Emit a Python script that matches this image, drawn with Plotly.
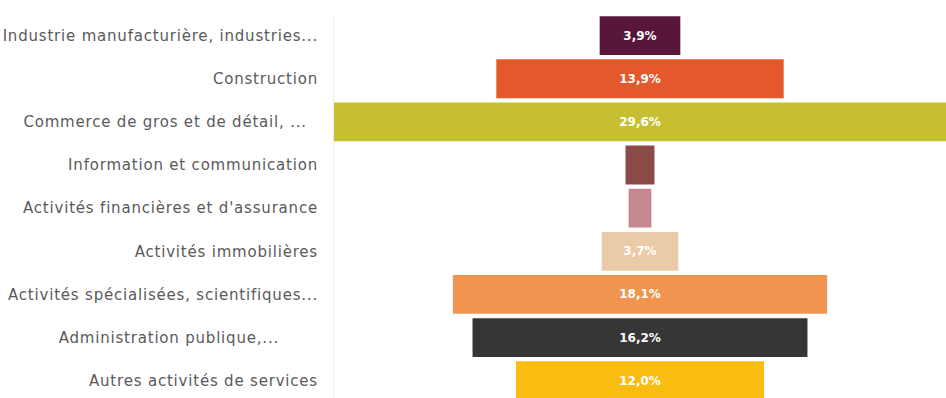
import plotly.graph_objects as go

# Part des effectifs par secteur d'activité (%)
secteurs = [
    "Industrie manufacturière, industries...",
    "Construction",
    "Commerce de gros et de détail, ...",
    "Information et communication",
    "Activités financières et d'assurance",
    "Activités immobilières",
    "Activités spécialisées, scientifiques...",
    "Administration publique,...",
    "Autres activités de services",
]
parts = [3.9, 13.9, 29.6, 1.4, 1.1, 3.7, 18.1, 16.2, 12.0]
couleurs = [
    "#58173a", "#e4592b", "#c7bf32", "#8c4a49", "#c68890",
    "#ebcaa7", "#ef9550", "#363636", "#f9bd12",
]

# Value labels in French notation; bars too thin to hold text stay blank
etiquettes = [f"{v:.1f}".replace(".", ",") + "%" if v >= 2 else "" for v in parts]

# Trailing padding kept by some truncated labels (in non-breaking spaces)
retrait = {"Commerce de gros et de détail, ...": 2, "Administration publique,...": 7}

# Slightly tracked-out category labels
libelles = [
    f'<span style="letter-spacing:0.8px">{s}{chr(160) * retrait.get(s, 0)}</span>'
    for s in secteurs
]

fig = go.Figure(
    go.Funnel(
        y=secteurs,
        x=parts,
        text=etiquettes,
        textinfo="text",
        textposition="inside",
        insidetextanchor="middle",
        textfont=dict(family="DejaVu Sans", size=12, color="white", weight="bold"),
        marker=dict(color=couleurs, line=dict(width=0)),
        connector=dict(visible=False),
        hoverinfo="y+x",
    )
)

half = max(parts) / 2
fig.update_layout(
    width=946,
    height=398,
    margin=dict(l=334, r=0, t=14, b=0),
    paper_bgcolor="white",
    plot_bgcolor="white",
    funnelgap=0.1,
    showlegend=False,
    xaxis=dict(range=[-half, half], visible=False),
    yaxis=dict(
        range=[len(secteurs) - 0.6, -0.5],
        tickmode="array",
        tickvals=secteurs,
        ticktext=libelles,
        showgrid=False,
        showline=True,
        linecolor="#efefef",
        linewidth=1,
        ticks="",
        ticklabelstandoff=12,
        tickfont=dict(family="DejaVu Sans", size=15, color="#5a5a5a"),
    ),
)

fig.write_html("out.html")
